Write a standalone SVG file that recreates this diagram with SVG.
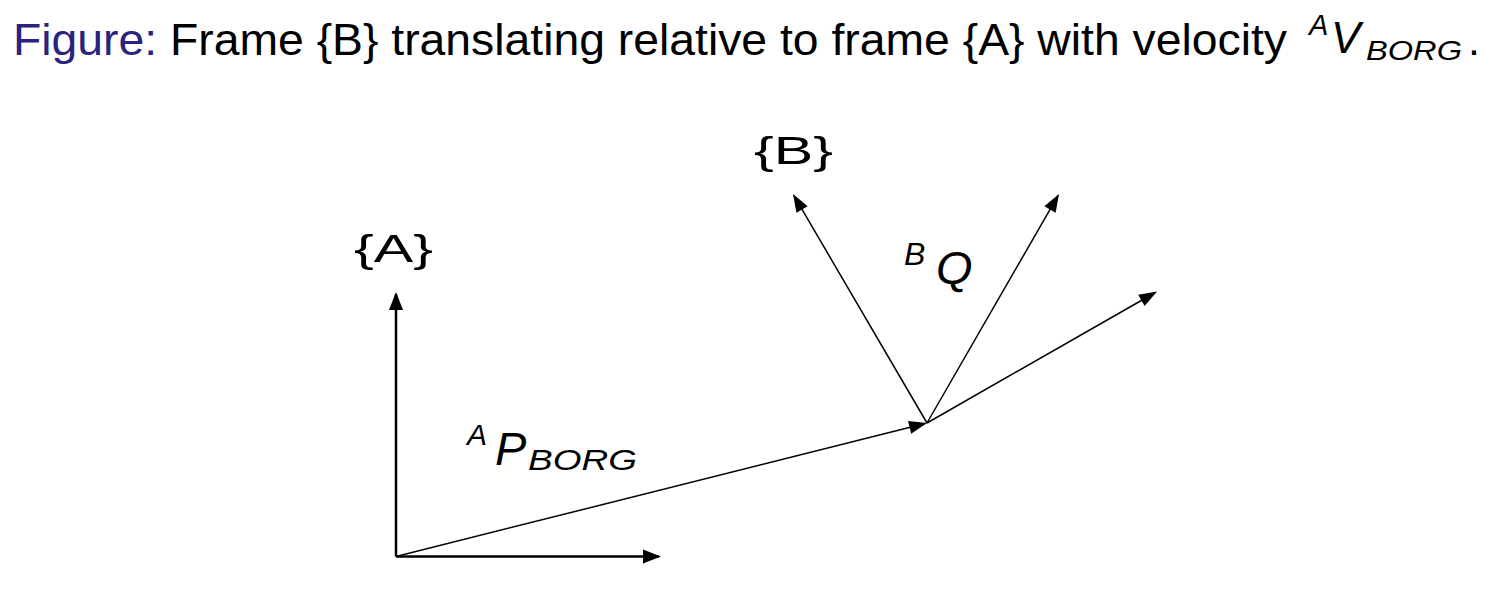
<svg xmlns="http://www.w3.org/2000/svg" width="1495" height="603" viewBox="0 0 1495 603">
<style>
  text { font-family: "Liberation Sans", Arial, sans-serif; fill: #000; }
  .it { font-style: italic; }
  .cap { fill: #2a2380; }
  .ax { stroke: #000; stroke-width: 2.5; fill: none; }
  .vec { stroke: #000; stroke-width: 1.5; fill: none; }
</style>
<defs>
  <marker id="headThick" markerUnits="userSpaceOnUse" viewBox="-17 -8 20 16" refX="0" refY="0" markerWidth="20" markerHeight="16" orient="auto">
    <path d="M2,0 L-16,-7 L-16,7 Z" fill="#000"/>
  </marker>
  <marker id="headThin" markerUnits="userSpaceOnUse" viewBox="-17 -8 20 16" refX="0" refY="0" markerWidth="20" markerHeight="16" orient="auto">
    <path d="M2,0 L-16,-6.5 L-16,6.5 Z" fill="#000"/>
  </marker>
</defs>

<g id="title">
  <text x="13" y="55" font-size="44" textLength="1274" lengthAdjust="spacingAndGlyphs"><tspan class="cap">Figure:</tspan> Frame {B} translating relative to frame {A} with velocity</text>
  <text class="it" x="1309" y="35" font-size="29">A</text>
  <text class="it" x="1331" y="53" font-size="44">V</text>
  <text class="it" x="1366" y="60" font-size="28" textLength="96" lengthAdjust="spacingAndGlyphs">BORG</text>
  <text x="1468" y="55" font-size="43">.</text>
</g>

<g id="connectors">
  <line id="A-y" class="ax" x1="396" y1="556.5" x2="396" y2="294" marker-end="url(#headThick)"/>
  <line id="A-x" class="ax" x1="396" y1="556.5" x2="659" y2="556.5" marker-end="url(#headThick)"/>
  <line id="P-BORG" class="vec" x1="396" y1="556.5" x2="925.1" y2="423.5" marker-end="url(#headThin)"/>
  <line id="B-1" class="vec" x1="927" y1="423" x2="794" y2="195.7" marker-end="url(#headThin)"/>
  <line id="B-2" class="vec" x1="927" y1="423" x2="1058" y2="195.7" marker-end="url(#headThin)"/>
  <line id="B-3" class="vec" x1="927" y1="423" x2="1155.3" y2="292.5" marker-end="url(#headThin)"/>
</g>

<g id="frameA">
  <text x="354" y="262" font-size="39" textLength="79" lengthAdjust="spacingAndGlyphs">{A}</text>
</g>

<g id="frameB">
  <text x="754" y="164" font-size="39" textLength="79" lengthAdjust="spacingAndGlyphs">{B}</text>
</g>

<g id="label-BQ">
  <text class="it" x="904" y="265" font-size="32">B</text>
  <text class="it" x="936" y="284" font-size="47">Q</text>
</g>

<g id="label-APBORG">
  <text class="it" x="467" y="445" font-size="30">A</text>
  <text class="it" x="495" y="465" font-size="47">P</text>
  <text class="it" x="528" y="470" font-size="29" textLength="109" lengthAdjust="spacingAndGlyphs">BORG</text>
</g>
</svg>
